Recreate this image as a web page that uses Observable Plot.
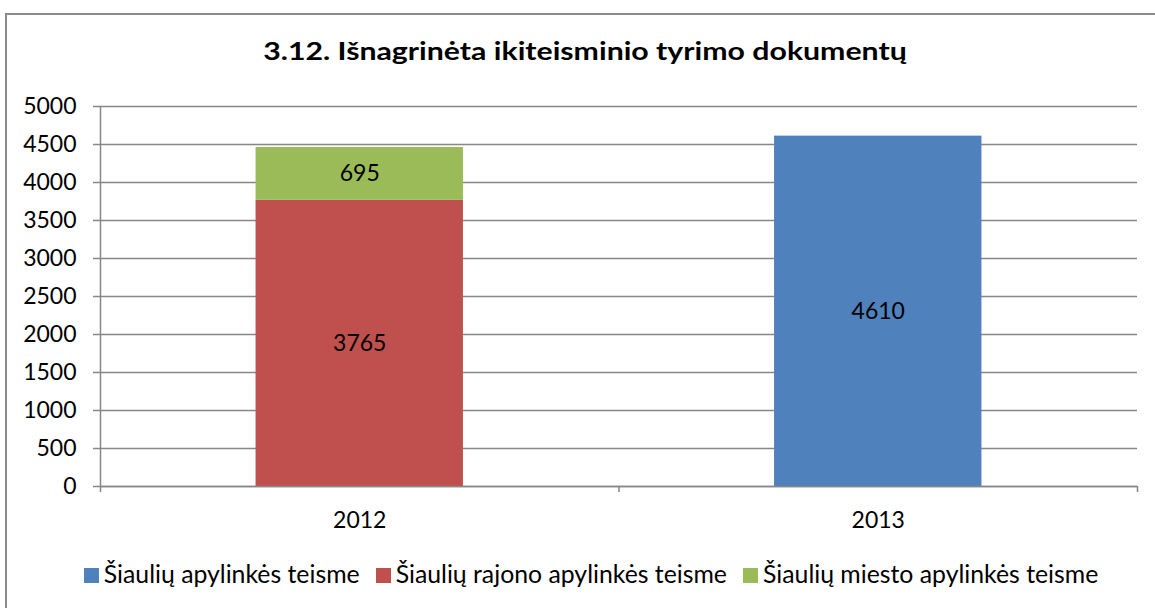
<!DOCTYPE html>
<html>
<head>
<meta charset="utf-8">
<script src="https://cdn.jsdelivr.net/npm/d3@7"></script>
<script src="https://cdn.jsdelivr.net/npm/@observablehq/plot@0.6"></script>
<style>
  body { margin: 0; background: #fff; }
  #wrap { position: relative; width: 1155px; height: 608px; overflow: hidden; font-family: Lato, "Open Sans", sans-serif; color: #000; }
  #frame { position: absolute; left: 5px; top: 13px; width: 1175px; height: 620px; border: 2px solid #8a8a8a; box-sizing: border-box; }
  #title { position: absolute; left: 5px; top: 35px; width: 1160px; text-align: center; font-weight: bold; font-size: 25px; line-height: 30px; transform: scaleX(1.21); transform-origin: 580px 0; }
  #chart { position: absolute; left: 0; top: 90px; }
  #legend { position: absolute; left: 0; top: 559px; width: 1182px; display: flex; justify-content: center; font-size: 24.8px; line-height: 30px; }
  .item { display: flex; align-items: center; margin: 0 8px; }
  .sw { width: 15px; height: 15px; margin-right: 5px; margin-top: 2px; }
</style>
</head>
<body>
<div id="wrap">
  <div id="frame"></div>
  <div id="title">3.12. Išnagrinėta ikiteisminio tyrimo dokumentų</div>
  <div id="chart"></div>
  <div id="legend"></div>
</div>
<script>
const years = ["2012", "2013"];
const seriesNames = ["Šiaulių apylinkės teisme", "Šiaulių rajono apylinkės teisme", "Šiaulių miesto apylinkės teisme"];
const seriesColors = ["#4f81bd", "#c0504d", "#9bbb59"];
const apylinkes = [0, 4610];
const rajono = [3765, 0];
const miesto = [695, 0];
const yTicks = [0, 500, 1000, 1500, 2000, 2500, 3000, 3500, 4000, 4500, 5000];

const seriesValues = [apylinkes, rajono, miesto];
const data = [];
years.forEach((yr, i) => {
  seriesNames.forEach((s, k) => {
    data.push({ year: yr, idx: i, series: s, value: seriesValues[k][i] });
  });
});
const nonzero = data.filter(d => d.value > 0);
const grid = "#878787";

const chart = Plot.plot({
  width: 1155,
  height: 462,
  marginLeft: 100,
  marginRight: 18,
  marginTop: 16,
  marginBottom: 66,
  style: { fontFamily: "Lato, 'Open Sans', sans-serif", fontSize: "23px", color: "#000", background: "transparent", overflow: "visible" },
  x: { type: "linear", domain: [0, years.length] },
  y: { domain: [0, 5000] },
  color: { domain: seriesNames, range: seriesColors },
  marks: [
    Plot.gridY(yTicks, { stroke: grid, strokeOpacity: 1, strokeWidth: 1.5 }),
    Plot.rectY(data, Plot.stackY({
      x1: d => d.idx + 0.3, x2: d => d.idx + 0.7, y: "value", fill: "series", order: seriesNames
    })),
    Plot.text(nonzero, Plot.stackY({
      x: d => d.idx + 0.5, y: "value", z: "series", text: d => String(d.value), order: seriesNames, fill: "#000", fontSize: 23
    })),
    Plot.ruleY([0], { stroke: grid, strokeWidth: 1.5 }),
    Plot.ruleX([0], { stroke: grid, strokeWidth: 1.5 }),
    Plot.axisY({ ticks: yTicks, tickSize: 7, tickPadding: 17, stroke: grid, strokeWidth: 1.5, label: null, tickFormat: d => String(d), fontSize: 23 }),
    Plot.axisX({ ticks: d3.range(years.length + 1), tickSize: 6, tickFormat: () => "", stroke: grid, strokeWidth: 1.5, label: null }),
    Plot.axisX({ ticks: years.map((y, i) => i + 0.5), tickSize: 0, tickPadding: 25, tickFormat: v => years[Math.floor(v)], label: null, fontSize: 23 })
  ]
});
document.getElementById("chart").appendChild(chart);

const legend = document.getElementById("legend");
seriesNames.forEach((s, k) => {
  const item = document.createElement("div");
  item.className = "item";
  const sw = document.createElement("div");
  sw.className = "sw";
  sw.style.background = seriesColors[k];
  const t = document.createElement("span");
  t.textContent = s;
  item.appendChild(sw);
  item.appendChild(t);
  legend.appendChild(item);
});
</script>
</body>
</html>
